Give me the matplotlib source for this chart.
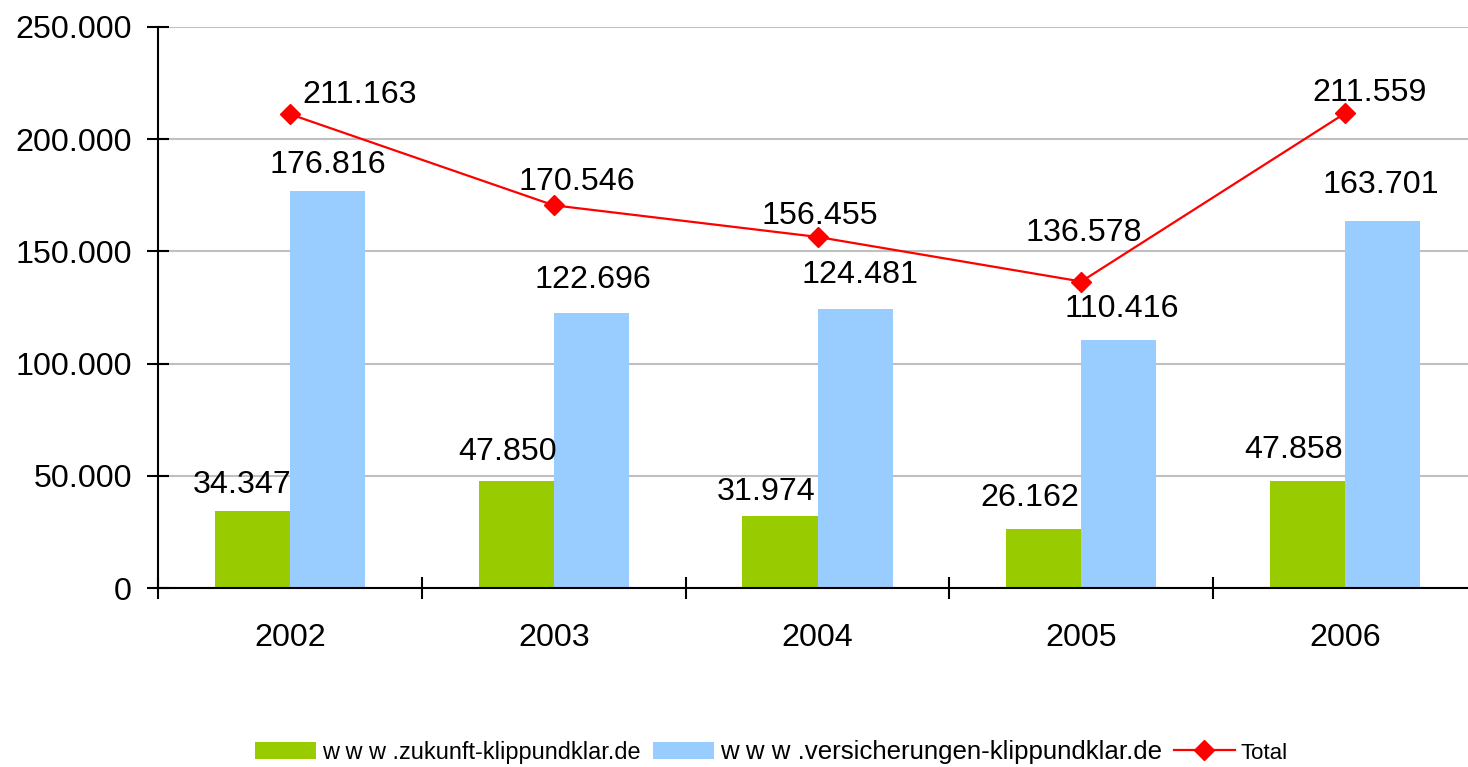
import numpy as np
import matplotlib
matplotlib.use("Agg")
import matplotlib.pyplot as plt
from matplotlib.ticker import FuncFormatter

# ---- data ----
years = ["2002", "2003", "2004", "2005", "2006"]
zukunft = [34347, 47850, 31974, 26162, 47858]
versicherungen = [176816, 122696, 124481, 110416, 163701]
total = [211163, 170546, 156455, 136578, 211559]
series_names = ["w w w .zukunft-klippundklar.de",
                "w w w .versicherungen-klippundklar.de",
                "Total"]

# label offsets (pixels: dx, dy of text centre above the point)
green_off = [(-10, 29.5), (-9, 32), (-14, 28), (-14, 35), (-14, 34)]
blue_off = [(0, 30), (2, 36), (5, 37), (3, 35), (-2, 39.5)]
total_off = [(70, 22.5), (23, 27), (2, 24), (2, 52), (24, 24)]

GREEN = "#99CC00"
BLUE = "#99CCFF"
RED = "#FF0000"
FONT = ["Liberation Sans", "DejaVu Sans"]
FS = 23.2
LFS = 17.2
legend_sizes = [16.9, 18.6, 16.0]

plt.rcParams["font.family"] = FONT

W, H = 1468, 767
fig = plt.figure(figsize=(W / 100, H / 100), dpi=100)
cat_px = 263.8
ax = fig.add_axes([158 / W, 179 / H, cat_px * 5 / W, (588 - 27) / H])

x = np.arange(len(years))
bw = 0.285
b1 = ax.bar(x - bw / 2, zukunft, bw, color=GREEN, label=series_names[0], zorder=2)
b2 = ax.bar(x + bw / 2, versicherungen, bw, color=BLUE, label=series_names[1], zorder=2)
ln, = ax.plot(x, total, color=RED, lw=1.6, marker="D", ms=10,
              label=series_names[2], zorder=3)

ax.set_xlim(-0.5, len(years) - 0.5)
ax.set_ylim(0, 250000)
ax.set_yticks(np.arange(0, 250001, 50000))
ax.yaxis.set_major_formatter(FuncFormatter(lambda v, p: f"{int(v):,}".replace(",", ".")))

ax.set_xticks(x)
ax.set_xticklabels(years)
ax.set_xticks(np.arange(-0.5, len(years), 1), minor=True)

px2pt = 0.72
ax.tick_params(axis="x", which="major", length=0, pad=(24 + 11) * px2pt, labelsize=FS)
ax.tick_params(axis="x", which="minor", direction="inout", length=22 * px2pt,
               width=1.5, color="black")
ax.tick_params(axis="y", which="major", direction="inout", length=22 * px2pt,
               width=1.5, pad=15 * px2pt, labelsize=FS, color="black")

ax.yaxis.grid(True, color="#c0c0c0", lw=1.5)
ax.set_axisbelow(True)
for s in ["top", "right"]:
    ax.spines[s].set_visible(False)
for s in ["left", "bottom"]:
    ax.spines[s].set_linewidth(1.5)
    ax.spines[s].set_zorder(4)


def fmt(v):
    return f"{v:,}".replace(",", ".")


def label(xv, yv, off):
    dx, dy = off
    ax.annotate(fmt(yv), xy=(xv, yv), xytext=(dx * px2pt, (dy - 11.5) * px2pt),
                textcoords="offset points", ha="center", va="baseline",
                fontsize=FS, zorder=5, annotation_clip=False)


for i in range(len(years)):
    label(x[i] - bw / 2, zukunft[i], green_off[i])
    label(x[i] + bw / 2, versicherungen[i], blue_off[i])
    label(x[i], total[i], total_off[i])

em = LFS / px2pt  # legend em in pixels
leg = fig.legend(handles=[b1, b2, ln], loc="center", ncol=3, frameon=False,
                 bbox_to_anchor=(771.5 / W, 1 - 752 / H),
                 prop={"size": LFS},
                 handlelength=61 / em, handleheight=18 / em, handletextpad=6 / em,
                 columnspacing=12 / em, borderpad=0, borderaxespad=0)
for t, s in zip(leg.get_texts(), legend_sizes):
    t.set_fontsize(s)

fig.savefig("out.png", dpi=100)
